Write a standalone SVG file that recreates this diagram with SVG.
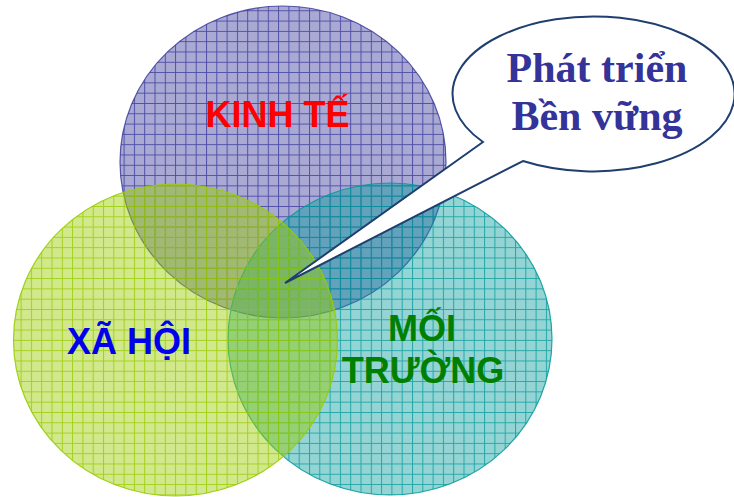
<svg xmlns="http://www.w3.org/2000/svg" width="734" height="497" viewBox="0 0 734 497">
  <defs>
    <pattern id="gridP" width="10.3" height="10.3" patternUnits="userSpaceOnUse">
      <rect width="10.3" height="10.3" fill="#333399" fill-opacity="0.42"/>
      <path d="M0 0.5H10.3M0.5 0V10.3" stroke="#333399" stroke-opacity="0.75" stroke-width="1" fill="none"/>
    </pattern>
    <pattern id="gridT" width="10.3" height="10.3" patternUnits="userSpaceOnUse">
      <rect width="10.3" height="10.3" fill="#009999" fill-opacity="0.42"/>
      <path d="M0 0.5H10.3M0.5 0V10.3" stroke="#009999" stroke-opacity="0.75" stroke-width="1" fill="none"/>
    </pattern>
    <pattern id="gridG" width="10.3" height="10.3" patternUnits="userSpaceOnUse">
      <rect width="10.3" height="10.3" fill="#99CC00" fill-opacity="0.45"/>
      <path d="M0 0.5H10.3M0.5 0V10.3" stroke="#99CC00" stroke-opacity="0.8" stroke-width="1" fill="none"/>
    </pattern>
  </defs>
  <style>
    .lbl { font-family: "Liberation Sans", Arial, sans-serif; font-weight: bold; font-size: 36px; text-anchor: middle; }
    .bub { font-family: "Liberation Serif", "Times New Roman", serif; font-weight: bold; font-size: 42px; fill: #333399; text-anchor: middle; }
  </style>
  <g id="kinh-te">
    <ellipse cx="283" cy="162" rx="163" ry="156" fill="url(#gridP)" stroke="#333399" stroke-opacity="0.8" stroke-width="1.2"/>
  </g>
  <g id="moi-truong">
    <ellipse cx="390" cy="339" rx="162" ry="156" fill="url(#gridT)" stroke="#009999" stroke-opacity="0.85" stroke-width="1.2"/>
  </g>
  <g id="xa-hoi">
    <ellipse cx="175.5" cy="340" rx="162" ry="156" fill="url(#gridG)" stroke="#99CC00" stroke-opacity="0.9" stroke-width="1.2"/>
  </g>
  <g id="labels">
    <text class="lbl" x="277.5" y="127" fill="#FF0000">KINH TẾ</text>
    <text class="lbl" x="129" y="354" fill="#0000EE">XÃ HỘI</text>
    <text class="lbl" x="422" y="341" fill="#008000">MỐI</text>
    <text class="lbl" x="423" y="383" fill="#008000">TRƯỜNG</text>
  </g>
  <g id="callout">
    <path d="M483 142 L285 283 L523 161 A141 77.5 0 1 0 483 142 Z" fill="#FFFFFF" stroke="#1F3F6F" stroke-width="2" stroke-linejoin="miter"/>
    <text class="bub" x="597" y="82">Phát triển</text>
    <text class="bub" x="597" y="130">Bền vững</text>
  </g>
  <g id="connectors"/>
</svg>
